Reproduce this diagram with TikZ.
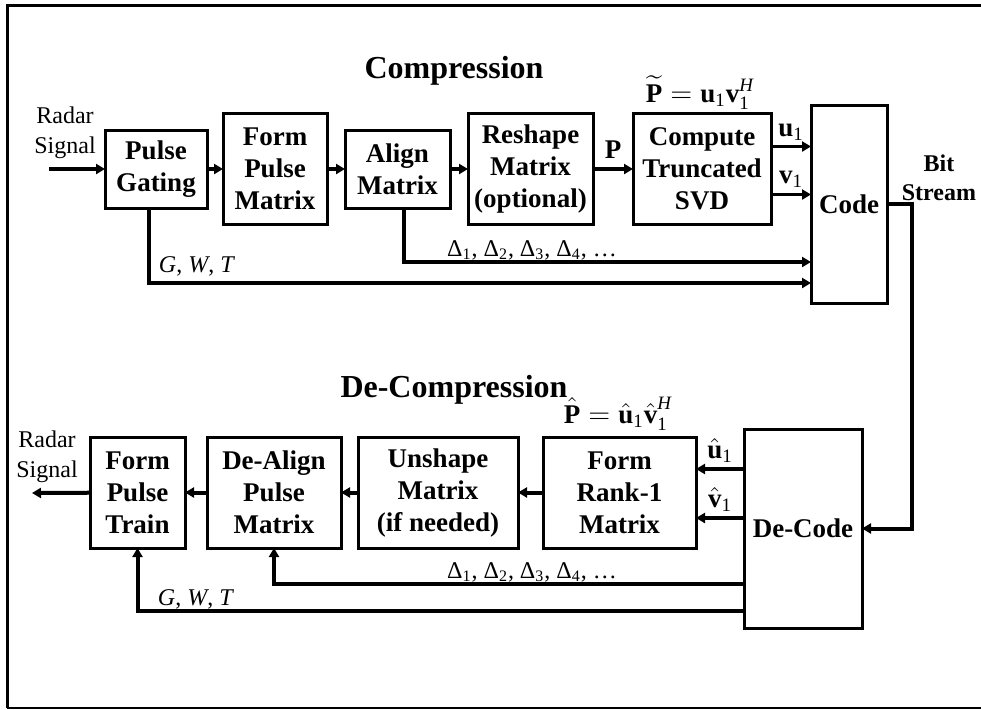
\documentclass[tikz,border=0pt]{standalone}
\usepackage{fontspec}
\setmainfont{Liberation Serif}
\usepackage{amsmath}
\usepackage{tikz}
\usetikzlibrary{
  arrows.meta,
  positioning,
  calc
}
\tikzset{
  procbox/.style={
    draw, line width=1.5pt, outer sep=0pt, inner sep=2pt, align=center,
    minimum height=55.5pt, font=\fontsize{13.5}{16}\selectfont\bfseries
  },
  shortbox/.style={procbox, minimum height=39pt},
  codebox/.style={procbox},
  wire/.style={line width=2pt, -{Triangle[length=4.5pt, width=5pt]}},
  thinwire/.style={line width=1.6pt, -{Triangle[length=4.5pt, width=5pt]}},
  sig/.style={font=\fontsize{12}{15}\selectfont, align=center, inner sep=0pt},
  bslbl/.style={font=\fontsize{12}{14.5}\selectfont\bfseries, align=center, inner sep=0pt},
  mlbl/.style={font=\fontsize{13.5}{15}\selectfont, inner sep=0pt, anchor=base},
  dlbl/.style={font=\fontsize{12}{15}\selectfont, inner sep=0pt, anchor=base},
  sectitle/.style={font=\fontsize{16}{19}\selectfont\bfseries, inner sep=0pt, anchor=base}
}
\newcommand{\vbf}[1]{\text{\bfseries #1}}

\begin{document}
\begin{tikzpicture}[x=0.5pt, y=-0.5pt]
  \useasboundingbox (0,0) rectangle (981,709);
  \draw[line width=1.5pt] (981,5) -- (7,5) -- (7,708);
  \draw[line width=1pt] (7,708) -- (981,708);

  % compression side
  \node[sectitle] (ctitle) at (454,78) {Compression};
  \node[shortbox, minimum width=51pt] (pg) at (156,169) {Pulse\\Gating};
  \node[procbox, minimum width=52pt, right=8pt of pg] (fpm) {Form\\Pulse\\Matrix};
  \node[shortbox, minimum width=52.5pt, right=9pt of fpm] (am) {Align\\Matrix};
  \node[procbox, minimum width=62.5pt, right=9pt of am] (rm) {Reshape\\Matrix\\(optional)};
  \node[procbox, minimum width=69pt, right=20pt of rm] (svd) {Compute\\Truncated\\SVD};
  \node[codebox, minimum width=38pt, minimum height=99pt] (code) at (849,204) {Code};

  \node[sig] (rsin) at (65,133) {Radar\\Signal};
  \coordinate (sin) at (49,169);
  \node[mlbl] (ptl) at (700,102) {$\widetilde{\vbf{P}} = \vbf{u}_{\text{1}}\vbf{v}_{\text{1}}^{\textit{H}}$};
  \node[dlbl] (dtop) at (532,256) {$\text{Δ}_{\text{1}}$, $\text{Δ}_{\text{2}}$, $\text{Δ}_{\text{3}}$, $\text{Δ}_{\text{4}}$, …};
  \node[dlbl] (gtop) at (197,272) {\textit{G}, \textit{W}, \textit{T}};
  \node[bslbl] (bs) at (939,178) {Bit\\Stream};

  \draw[wire] (sin) -- (pg);
  \draw[wire] (pg) -- (fpm);
  \draw[wire] (fpm) -- (am);
  \draw[wire] (am) -- (rm);
  \draw[wire] (rm) -- node[mlbl, midway, yshift=5.25pt] {\textbf{P}} (svd);
  \draw[thinwire] ([yshift=11.25pt]svd.east) -- ([yshift=11.25pt]svd.east -| code.west)
    node[mlbl, midway, yshift=5pt] {$\vbf{u}_{\text{1}}$};
  \draw[thinwire] ([yshift=-12.75pt]svd.east) -- ([yshift=-12.75pt]svd.east -| code.west)
    node[mlbl, midway, yshift=5.5pt] {$\vbf{v}_{\text{1}}$};
  \draw[wire] ([xshift=3.25pt]am.south) |- ([yshift=20.5pt]code.south west);
  \draw[wire] ([xshift=-3.5pt]pg.south) |- ([yshift=10pt]code.south west);

  % de-compression side
  \node[sectitle] (dtitle) at (454,397) {De-Compression};
  \node[procbox, minimum width=47.5pt] (fpt) at (137.5,492.5) {Form\\Pulse\\Train};
  \node[procbox, minimum width=67pt, right=11pt of fpt] (dapm) {De-Align\\Pulse\\Matrix};
  \node[procbox, minimum width=80pt, right=8.5pt of dapm] (um) {Unshape\\Matrix\\(if needed)};
  \node[procbox, minimum width=76.5pt, right=12.5pt of um] (fr) {Form\\Rank-1\\Matrix};
  \node[codebox, minimum width=59pt, minimum height=99.5pt] (decode) at (803,528.5) {De-Code};

  % bit stream
  \draw[wire] (code.east) -- ++(12.5pt,0) |- (decode.east);

  \node[sig] (rsout) at (47,457) {Radar\\Signal};
  \coordinate (sout) at (32,493);
  \node[mlbl] (phat) at (618,423) {$\hat{\vbf{P}} = \hat{\vbf{u}}_{\text{1}}\hat{\vbf{v}}_{\text{1}}^{\textit{H}}$};
  \node[dlbl] (dbot) at (532,578) {$\text{Δ}_{\text{1}}$, $\text{Δ}_{\text{2}}$, $\text{Δ}_{\text{3}}$, $\text{Δ}_{\text{4}}$, …};
  \node[dlbl] (gbot) at (196,605) {\textit{G}, \textit{W}, \textit{T}};

  \draw[thinwire] ([yshift=11.75pt]fr.east -| decode.west) -- ([yshift=11.75pt]fr.east)
    node[mlbl, midway, yshift=5.5pt] {$\hat{\vbf{u}}_{\text{1}}$};
  \draw[thinwire] ([yshift=-12.75pt]fr.east -| decode.west) -- ([yshift=-12.75pt]fr.east)
    node[mlbl, midway, yshift=5.5pt] {$\hat{\vbf{v}}_{\text{1}}$};
  \draw[wire] (fr) -- (um);
  \draw[wire] (um) -- (dapm);
  \draw[wire] (dapm) -- (fpt);
  \draw[wire] (fpt) -- (sout);
  \draw[wire] ([yshift=22pt]decode.south west) -| (dapm.south);
  \draw[wire] ([yshift=8.5pt]decode.south west) -| (fpt.south);
\end{tikzpicture}
\end{document}
